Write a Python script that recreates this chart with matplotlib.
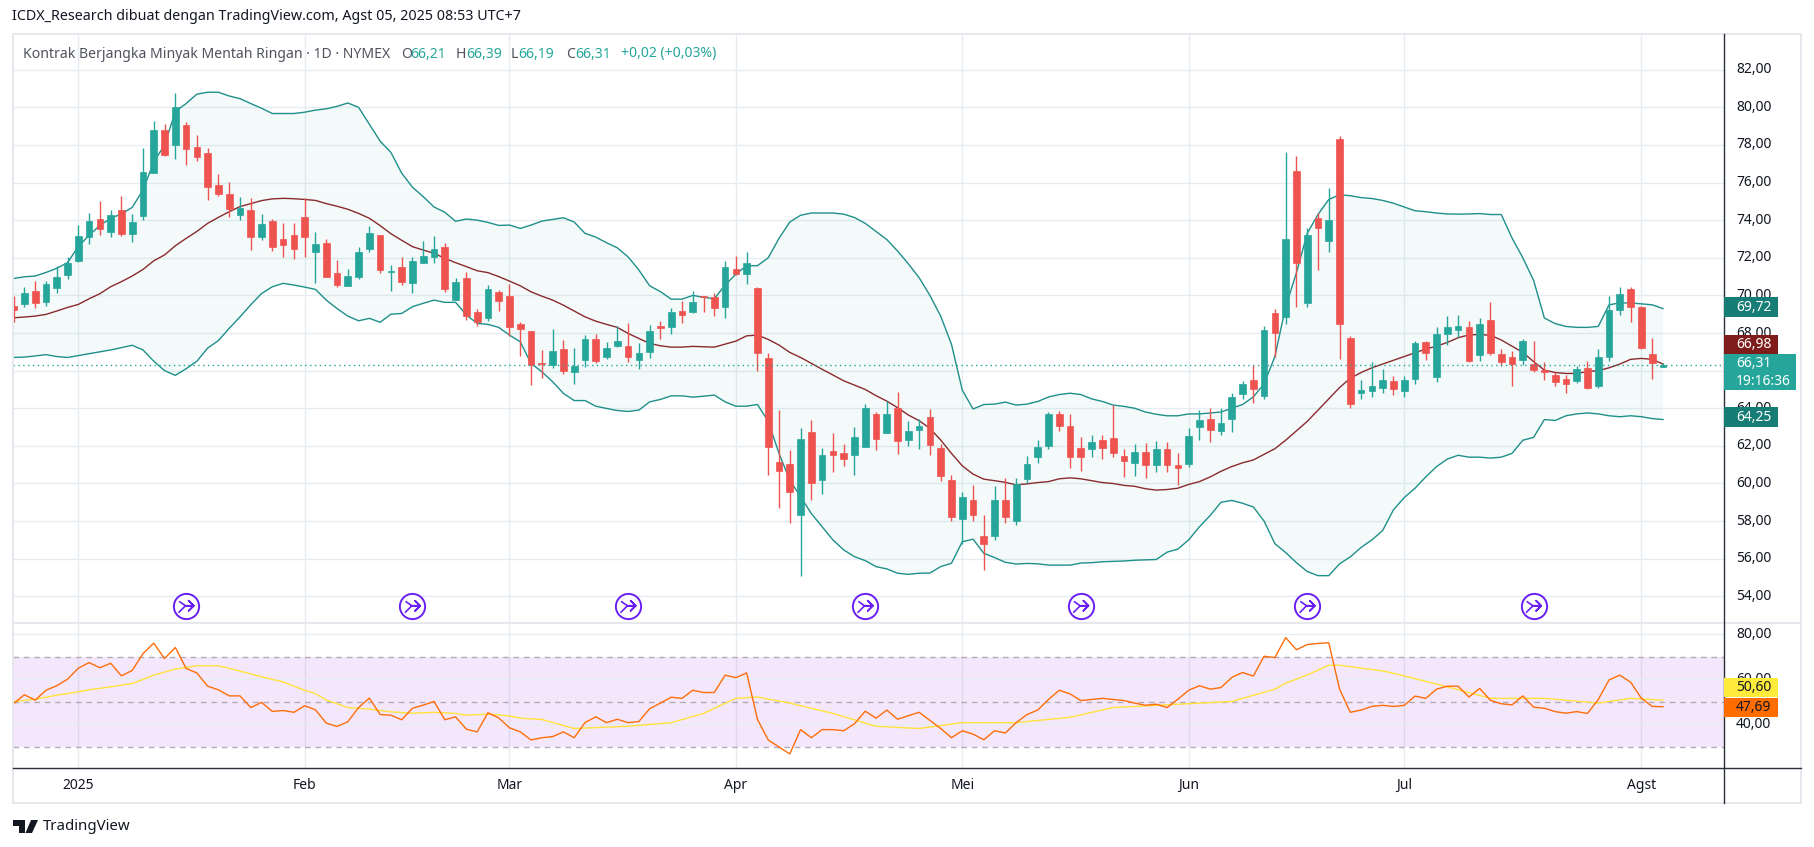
import matplotlib
matplotlib.use("Agg")
import matplotlib.pyplot as plt
from matplotlib.patches import Rectangle, Polygon
from matplotlib.path import Path

W, H = 1814, 847
plt.rcParams['font.family'] = ['Noto Sans', 'DejaVu Sans']

first_bar = -6
opens = [69.43,69.54,70.23,69.65,70.39,71.08,71.83,73.10,74.06,73.37,74.54,73.26,74.22,76.51,78.79,78.00,79.06,77.89,77.57,75.87,
 75.39,74.27,74.54,73.10,73.96,73.00,73.21,74.17,72.31,72.79,71.19,70.50,70.98,72.47,73.21,71.24,71.51,70.66,71.72,72.04,
 72.57,69.75,70.92,69.11,68.80,70.18,69.97,68.47,68.10,66.40,66.29,67.14,65.92,66.56,67.68,66.72,67.30,67.30,66.56,66.98,
 68.37,68.31,69.17,69.11,69.96,69.91,69.38,71.40,71.13,70.39,66.67,61.14,61.03,58.30,62.73,60.18,61.72,61.62,61.51,61.94,
 63.69,62.68,64.01,62.31,62.84,63.53,61.88,60.18,58.10,59.10,57.20,57.20,59.10,58.00,60.23,
 61.41,62.00,63.68,63.07,61.90,61.84,62.33,62.40,61.47,61.10,61.65,61.00,61.84,61.00,61.05,63.00,63.45,62.80,63.44,64.75,
 65.50,64.67,69.07,68.85,76.60,69.60,74.14,72.90,78.30,67.74,64.80,64.90,65.10,65.45,64.90,65.55,67.52,65.65,67.95,68.16,
 68.32,66.83,68.69,66.89,66.73,66.57,66.35,66.03,65.77,65.53,65.47,66.14,65.16,66.70,69.22,70.33,69.40,66.88,66.21]
highs = [69.96,70.44,70.78,70.76,71.56,72.04,73.74,74.38,75.02,74.54,75.28,74.33,77.84,79.27,79.11,80.76,79.22,78.53,77.84,76.45,
 76.03,75.23,75.18,74.33,74.06,73.85,73.85,75.18,73.37,73.00,71.88,71.40,72.57,73.69,73.21,71.61,72.04,72.04,72.89,73.16,
 72.79,70.92,71.24,69.27,70.55,70.29,70.60,68.58,68.10,67.09,68.21,67.62,67.20,67.89,67.94,67.52,68.37,68.53,67.46,68.42,
 68.63,69.33,69.70,70.23,69.96,70.12,71.83,72.09,72.30,70.44,66.94,63.90,61.78,62.95,63.37,61.88,62.68,62.10,63.00,64.22,
 63.80,64.38,64.86,63.32,63.43,63.96,62.10,60.45,59.54,59.90,58.30,59.86,60.29,60.29,61.46,
 62.33,63.80,63.85,63.68,62.45,62.60,62.60,64.15,61.84,62.10,62.15,62.27,62.20,61.60,62.95,63.90,64.00,64.00,64.80,65.45,
 66.30,68.37,69.28,77.60,77.40,73.60,74.40,75.70,78.45,67.84,65.50,66.46,66.10,65.70,65.70,67.58,67.58,68.32,68.91,68.96,
 68.64,68.80,69.65,67.15,67.05,67.68,67.58,66.46,65.93,65.78,66.27,66.50,67.13,69.96,70.45,70.45,69.46,67.74,66.39]
lows = [68.60,69.38,69.33,69.43,70.12,70.87,71.77,72.73,73.21,73.10,73.16,72.84,74.01,76.51,77.41,77.25,76.93,77.15,75.07,75.28,
 74.17,74.00,72.41,72.94,72.36,72.04,71.93,72.04,70.66,70.98,70.44,70.50,70.87,72.31,71.19,70.23,70.55,70.13,71.72,71.72,
 70.18,69.75,68.69,68.37,68.64,69.17,67.84,66.77,65.23,65.60,66.13,65.81,65.28,66.19,66.40,66.61,67.25,66.45,66.08,66.67,
 67.68,67.94,68.53,69.06,69.11,68.90,68.79,71.08,70.60,65.97,60.45,58.70,57.90,55.10,59.10,59.44,60.61,60.93,60.45,61.94,
 61.78,62.68,61.56,61.99,61.83,61.51,60.13,58.00,56.80,58.00,55.40,57.00,57.90,57.80,60.00,
 61.10,61.84,62.80,60.80,60.67,61.40,61.30,61.40,60.35,60.40,60.30,60.60,60.60,59.90,60.90,62.30,62.20,62.60,62.75,64.50,
 64.30,64.50,66.73,68.48,69.39,69.40,71.35,72.30,66.62,64.00,64.50,64.60,64.80,64.70,64.60,65.30,66.57,65.40,67.36,67.79,
 66.46,66.51,66.83,66.25,65.20,66.30,65.93,65.50,65.20,64.79,65.34,65.04,65.10,66.50,68.97,68.60,67.13,65.53,66.19]
closes = [69.22,70.12,69.59,70.60,70.98,71.72,73.16,73.95,73.53,74.27,73.26,73.90,76.56,78.79,77.46,80.02,77.78,77.36,75.76,75.39,
 74.59,74.65,73.10,73.80,72.57,72.68,72.47,73.10,72.73,70.98,70.55,71.03,72.31,73.32,71.35,71.30,70.71,71.83,72.09,72.47,
 70.34,70.71,68.90,68.58,70.34,69.70,68.32,68.21,66.29,66.35,67.04,65.97,66.24,67.68,66.51,67.20,67.57,66.72,66.93,68.10,
 68.26,69.11,68.95,69.64,69.91,69.33,71.51,71.13,71.72,66.93,61.94,60.66,59.54,62.36,60.02,61.51,61.51,61.30,62.47,64.01,
 62.36,63.69,62.26,62.79,63.05,62.04,60.39,58.20,59.28,58.30,56.80,59.10,58.20,59.97,61.03,
 61.96,63.68,63.07,61.40,61.40,62.20,61.90,61.60,61.20,61.70,61.00,61.84,61.00,60.85,62.50,63.40,62.85,63.20,64.60,65.30,
 65.00,68.16,68.00,73.00,71.73,73.20,73.60,74.00,68.48,64.20,64.98,65.20,65.50,65.00,65.50,67.47,66.94,67.95,68.32,68.38,
 66.51,68.48,66.94,66.46,66.35,67.58,66.03,65.93,65.40,65.28,66.08,65.10,66.70,69.22,70.08,69.40,67.20,66.39,66.31]

upper_band = [70.9,70.99,71.03,71.22,71.44,71.74,72.6,73.2,73.72,74.1,74.33,74.68,75.6,77.1,78.0,79.77,80.2,80.7,80.8,80.8,
 80.6,80.46,80.2,79.95,79.67,79.67,79.67,79.74,79.85,79.92,80.05,80.23,80.0,79.1,78.2,77.6,76.5,75.75,75.25,74.7,
 74.42,73.94,74.06,74.0,73.88,73.72,73.74,73.56,73.74,73.95,74.04,74.13,73.9,73.3,73.1,72.8,72.53,72.05,71.35,70.51,
 70.2,69.8,69.8,70.0,69.9,69.82,70.55,71.13,71.58,71.58,72.0,73.03,73.9,74.26,74.38,74.38,74.38,74.32,74.14,73.83,
 73.4,72.97,72.36,71.68,70.94,70.0,68.9,67.4,64.97,63.96,64.2,64.22,64.33,64.17,64.22,
 64.36,64.6,64.73,64.8,64.73,64.5,64.36,64.17,64.1,64.0,63.8,63.68,63.6,63.6,63.7,63.7,63.75,63.8,64.0,64.2,
 64.6,65.3,66.75,69.4,71.2,73.3,74.3,75.1,75.35,75.3,75.2,75.15,75.05,74.9,74.7,74.5,74.45,74.38,74.33,74.32,
 74.33,74.35,74.3,74.3,73.05,72.0,70.8,68.8,68.5,68.35,68.3,68.3,68.35,69.5,69.6,69.6,69.55,69.5,69.3]
basis = [68.81,68.85,68.9,68.99,69.17,69.36,69.52,69.82,70.09,70.46,70.73,71.03,71.38,71.84,72.15,72.64,73.03,73.4,73.83,74.15,
 74.45,74.72,74.88,75.04,75.13,75.16,75.14,75.1,75.05,74.88,74.74,74.58,74.36,74.1,73.71,73.28,72.93,72.59,72.41,72.24,
 71.97,71.74,71.53,71.31,71.21,71.0,70.76,70.51,70.19,69.96,69.75,69.48,69.17,68.86,68.63,68.46,68.3,67.98,67.71,67.45,
 67.32,67.25,67.25,67.29,67.27,67.25,67.41,67.57,67.85,67.89,67.66,67.36,66.97,66.7,66.39,66.07,65.77,65.46,65.23,65.0,
 64.67,64.38,64.03,63.64,63.34,62.93,62.31,61.6,60.94,60.5,60.23,60.15,60.06,59.93,59.98,
 60.05,60.1,60.25,60.3,60.25,60.15,60.05,60.0,59.9,59.85,59.72,59.65,59.68,59.75,59.95,60.1,60.35,60.65,60.9,61.1,
 61.25,61.55,61.85,62.3,62.8,63.3,63.9,64.5,65.1,65.6,65.9,66.15,66.35,66.55,66.75,66.95,67.15,67.3,67.5,67.75,
 67.9,67.92,67.88,67.63,67.3,66.97,66.48,66.03,65.9,65.85,65.85,65.95,66.0,66.15,66.35,66.6,66.65,66.6,66.35]
lower_band = [66.7,66.72,66.78,66.85,66.75,66.7,66.8,66.9,67.0,67.1,67.22,67.35,67.1,66.5,66.0,65.75,66.1,66.5,67.2,67.6,
 68.25,68.86,69.5,70.1,70.46,70.64,70.55,70.44,70.32,69.75,69.3,68.9,68.65,68.78,68.57,69.0,69.04,69.4,69.58,69.75,
 69.63,69.63,68.96,68.51,68.46,68.3,67.89,67.53,66.38,65.94,65.41,64.79,64.41,64.41,64.11,63.99,63.88,63.83,63.9,64.34,
 64.47,64.66,64.66,64.59,64.64,64.7,64.34,64.11,64.11,64.2,63.3,61.6,60.18,59.3,58.4,57.7,57.0,56.47,56.11,55.9,
 55.58,55.46,55.23,55.17,55.23,55.24,55.58,55.76,56.9,57.04,56.29,56.06,55.81,55.72,55.75,
 55.73,55.66,55.66,55.66,55.77,55.79,55.84,55.86,55.88,55.92,55.94,55.96,56.35,56.51,57.0,57.7,58.3,59.0,59.1,58.95,
 58.75,58.0,56.8,56.33,55.79,55.32,55.1,55.1,55.73,56.1,56.6,57.0,57.5,58.6,59.25,59.75,60.35,60.9,61.3,61.5,
 61.4,61.4,61.35,61.4,61.6,62.3,62.45,63.4,63.35,63.6,63.7,63.75,63.7,63.6,63.55,63.6,63.55,63.45,63.4]

rsi = [49.1,53,50.6,55,57,59.9,64.8,67.3,65,67,61.4,63.8,71.3,75.9,69.1,74,64.7,62.7,56.8,55.2,
 52.5,52.5,47.3,49.6,45.6,46,45.2,48.1,46.3,40.4,38.9,41,47.3,51.5,44.2,43.9,41.9,47,48.4,50,
 41.9,43.2,37.7,36.5,45,42.7,38.3,36.5,32.9,33.9,34.4,36.5,33.9,40.6,43.2,40.6,42.1,40.6,41.1,46.8,
 49.3,51.9,51.4,55,54,54,61.7,60.6,62.7,42.1,32.9,29.8,26.7,37.5,33.9,37.5,37.5,37,40.1,45.7,
 42.6,46.2,42.1,43.7,45.2,41.6,38,33.9,37,35.5,33,37,36,40.6,44.2,
 46.2,50.9,55,53.4,50.4,50.9,51.4,50.9,50.4,49.3,48.3,48.8,47.3,51,55,57,55.5,56.2,60.7,62.9,
 61.3,70.1,69.5,78.4,73,75.3,75.8,76.1,55.5,45.2,46.2,47.8,48.3,47.8,48.3,52.4,51.4,55.5,56.8,56.8,
 52,55.8,50.5,49,48.5,52.5,47.5,47,45.5,44.8,45.5,44.7,50.9,59.6,61.7,58.6,51.4,47.8,47.69]
rsi_ma_bars = [-6,-4,-2,0,1,3,5,7,9,11,13,15,17,19,21,22,23,25,27,29,31,33,35,36,38,40,41,43,46,51,55,58,61,63,66,70,74,78,82,87,92,96,100,107,111,112,114,116,117,121,123,127,131,136,141,144,147]
rsi_ma = [50,51,52.8,54.3,55.2,56.5,58,61.7,64.4,65.9,65.9,63.5,61,58.7,55,53.5,50.7,47.3,46.6,45.4,44.8,45.2,44.7,43.9,44.4,43.6,42.6,42,38,39,40.6,44.7,51.4,52,49.3,44.7,39,38,40.6,40.6,43,47.3,48.3,50,55.5,58.1,61.8,66.1,66.1,63.6,61.4,56.5,51.4,51.4,49.3,51.4,50.6]

price_ticks = [54,56,58,60,62,64,66,68,70,72,74,76,78,80,82]
rsi_ticks = [40,60,80]
rsi_levels = [30,50,70]
month_bars = [0,21,40,61,82,103,123,145]
month_labels = ['2025','Feb','Mar','Apr','Mei','Jun','Jul','Agst']
split_bars = [10,31,51,73,93,114,135]
split_price = 53.5
last_price = 66.31

GREEN, RED = '#26a69a', '#ef5350'
BAND, BASIS = '#1f8f8a', '#8a2a2e'
GRID = '#e6edf2'
TEXT = '#131722'

LEFT, RIGHT, TOP, SEP, BOT, END = 13, 1724, 34, 623, 768, 803
OUTER = 1801
fig = plt.figure(figsize=(W/100, H/100), dpi=100, facecolor='white')
ax = fig.add_axes([LEFT/W, 1-SEP/H, (RIGHT-LEFT)/W, (SEP-TOP)/H])
ax2 = fig.add_axes([LEFT/W, 1-BOT/H, (RIGHT-LEFT)/W, (BOT-SEP)/H])

xlim = ((LEFT-78.3)/10.78, (RIGHT-78.3)/10.78)
ax.set_xlim(*xlim); ax2.set_xlim(*xlim)
ax.set_ylim(80-(SEP-107.3)/18.81, 80+(107.3-TOP)/18.81)
ax2.set_ylim(70-(BOT-656.5)/2.25, 70+(656.5-SEP)/2.25)

bars = list(range(first_bar, first_bar+len(opens)))
assert all(len(s) == len(bars) for s in (highs, lows, closes, upper_band, basis, lower_band, rsi))
assert len(rsi_ma) == len(rsi_ma_bars)

for a in (ax, ax2):
    for s in a.spines.values():
        s.set_visible(False)
    a.set_xticks([]); a.set_yticks([])
    a.set_facecolor('none')
    for b in month_bars:
        a.axvline(b, color=GRID, lw=1.0, zorder=1)

for t in price_ticks:
    ax.axhline(t, color=GRID, lw=1.0, zorder=1)
for t in rsi_ticks:
    ax2.axhline(t, color=GRID, lw=1.0, zorder=2)

# Bollinger
ax.fill(bars+bars[::-1], upper_band+lower_band[::-1], color='#26a69a', alpha=0.055, lw=0, zorder=2)
ax.plot(bars, upper_band, color=BAND, lw=1.0, zorder=3)
ax.plot(bars, lower_band, color=BAND, lw=1.0, zorder=3)
ax.plot(bars, basis, color=BASIS, lw=1.0, zorder=3)

# Candles
colors = [GREEN if c >= o else RED for o, c in zip(opens, closes)]
ax.vlines(bars, lows, highs, colors=colors, lw=1.0, zorder=4)
ax.bar(bars, [abs(c-o) for o, c in zip(opens, closes)], bottom=[min(o, c) for o, c in zip(opens, closes)],
       width=0.62, color=colors, edgecolor=colors, lw=0.5, zorder=5)
ax.axhline(last_price, color=GREEN, lw=1.0, ls=(0, (1, 2.5)), zorder=6)

# Split markers
split_glyph = Path([(-0.55,0.35),(-0.05,0.0),(0.6,0.0),(0.2,0.4),(0.6,0.0),(0.2,-0.4),(0.6,0.0),(-0.05,0.0),(-0.6,-0.55)],
                   [Path.MOVETO]+[Path.LINETO]*8)
ax.scatter(split_bars, [split_price]*len(split_bars), s=330, facecolor='white', edgecolor='#6a1ff2', lw=1.4, zorder=6, clip_on=False)
ax.scatter(split_bars, [split_price]*len(split_bars), s=120, marker=split_glyph, facecolor='none', edgecolor='#6a1ff2', lw=1.2, zorder=7, clip_on=False)

# RSI pane
ax2.axhspan(rsi_levels[0], rsi_levels[2], color='#9c27e0', alpha=0.11, lw=0, zorder=1)
for lv in rsi_levels:
    ax2.axhline(lv, color='#b2aab5', lw=1.0, ls=(0, (4, 3.5)), zorder=3)
ax2.plot(rsi_ma_bars, rsi_ma, color='#ffe23b', lw=1.0, zorder=4)
ax2.plot(bars, rsi, color='#ff6d0a', lw=1.0, zorder=5)

# Frame drawn in figure pixels
def hline(y, x0, x1, c, lw=1.0):
    fig.add_artist(plt.Line2D([x0/W, x1/W], [1-y/H, 1-y/H], color=c, lw=lw))
def vline(x, y0, y1, c, lw=1.0):
    fig.add_artist(plt.Line2D([x/W, x/W], [1-y0/H, 1-y1/H], color=c, lw=lw))
FRAME = '#e6e8ee'
hline(TOP, LEFT, OUTER, FRAME, 1.4)
hline(END, LEFT, OUTER, FRAME, 1.4)
vline(LEFT, TOP, END, FRAME, 1.4)
vline(OUTER, TOP, END, FRAME, 1.4)
hline(SEP, LEFT, OUTER, FRAME, 1.6)
hline(BOT, LEFT, OUTER, '#2a2e39', 1.0)
vline(RIGHT, TOP, END, '#2a2e39', 1.0)

def ftext(x, y, s, **kw):
    kw.setdefault('va', 'center'); kw.setdefault('ha', 'left'); kw.setdefault('color', TEXT)
    kw.setdefault('fontsize', 10)
    return fig.text(x/W, 1-y/H, s, **kw)

def fmt(v):
    return f'{v:.2f}'.replace('.', ',')

# Axis labels
for t in price_ticks:
    ftext(1736, H-ax.transData.transform((0, t))[1], fmt(t), fontsize=10)
for t in rsi_ticks:
    ftext(1736, H-ax2.transData.transform((0, t))[1], fmt(t), fontsize=10)
for b, lab in zip(month_bars, month_labels):
    x = ax.transData.transform((b, 0))[0]
    ftext(x, 785, lab, ha='center', fontsize=10, fontweight='bold' if lab == '2025' else 'normal')

# Header and legend
ftext(12, 16, 'ICDX_Research dibuat dengan TradingView.com, Agst 05, 2025 08:53 UTC+7', fontsize=10.3)
LEG = '#50535e'
ftext(23, 54, 'Kontrak Berjangka Minyak Mentah Ringan · 1D · NYMEX', fontsize=10.1, color=LEG)
for x, s, c in [(401,'O',LEG),(410,'66,21',GREEN),(456,'H',LEG),(466,'66,39',GREEN),(511,'L',LEG),(518,'66,19',GREEN),
                (566,'C',LEG),(575,'66,31',GREEN),(621,'+0,02 (+0,03%)',GREEN)]:
    ftext(x, 54, s, fontsize=10.1, color=c)

# Value tags
def tag(y0, y1, x1, c, lines, tc='white'):
    fig.add_artist(Rectangle((RIGHT/W, 1-y1/H), (x1-RIGHT)/W, (y1-y0)/H, transform=fig.transFigure, facecolor=c, edgecolor='none', zorder=10))
    n = len(lines)
    for k, s in enumerate(lines):
        ftext(1736, y0+(y1-y0)*(k+0.5)/n, s, color=tc, fontsize=10, zorder=11)
tag(297, 317, 1778, '#167c76', ['69,72'])
tag(335, 354, 1778, '#7f1d1d', ['66,98'])
tag(354, 390, 1796, GREEN, ['66,31', '19:16:36'])
tag(407, 427, 1778, '#167c76', ['64,25'])
tag(678, 697, 1778, '#ffeb3b', ['50,60'], tc=TEXT)
tag(698, 717, 1778, '#ff6d00', ['47,69'], tc=TEXT)

# TradingView footer
def logo(pts):
    fig.add_artist(Polygon([(x/W, 1-y/H) for x, y in pts], closed=True, transform=fig.transFigure, facecolor=TEXT, edgecolor='none'))
logo([(13,820),(25,820),(25,833),(19,833),(19,826),(13,826)])
logo([(31,820),(38,820),(32,833),(25.5,833)])
ftext(43, 826, 'TradingView', fontsize=10.8, fontweight='medium')

fig.savefig('out.png', dpi=100)
